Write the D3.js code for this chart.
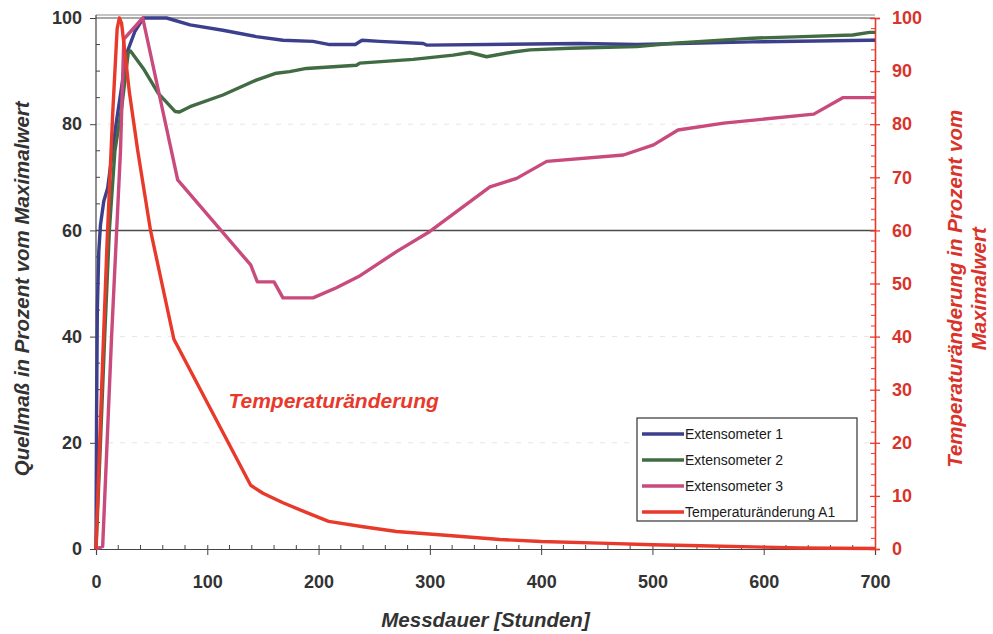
<!DOCTYPE html>
<html lang="de">
  <head>
    <meta charset="UTF-8" />
    <title>Quellmaß und Temperaturänderung</title>
    <style>
      body { margin: 0; background: #fff; }
      svg { display: block; }
      text { font-family: "Liberation Sans", Arial, sans-serif; }
      .tick-label { font-size: 18px; font-weight: bold; fill: #333; }
      .tick-label-r { font-size: 18px; font-weight: bold; fill: #d9342b; }
      .axis-title { font-size: 20.5px; font-weight: bold; font-style: italic; fill: #333; }
      .axis-title-r { font-size: 20.5px; font-weight: bold; font-style: italic; fill: #d9342b; }
      .legend-text { font-size: 14px; fill: #1a1a1a; }
      .data-line { fill: none; stroke-width: 3.4; stroke-linejoin: round; }
    </style>
  </head>
  <body>
    <script src="https://cdn.jsdelivr.net/npm/d3@7/dist/d3.min.js"></script>
    <script>

    // hours and percent of max
    var ext1 = [[0,0],[0.5,25],[1.2,45],[2.5,56],[4,61],[7,65.5],[10.5,68],[18,80],[27.5,93.3],[35,97.5],
                [42.5,100],[63.5,100],[84.5,98.7],[114,97.7],[144,96.5],[168,95.8],[195,95.6],[210,95],
                [233,95],[239,95.8],[255,95.6],[294,95.2],[297,94.9],[435,95.2],[486,95.0],[590,95.5],
                [695,95.8],[700,95.8]];

    var ext2 = [[0,0],[4,20],[8,41],[12,60],[17,75],[23,83],[29,93.5],[31,93.8],[42.5,90.5],[56,85.8],
                [71,82.4],[75,82.3],[84.5,83.3],[114,85.5],[144,88.3],[162,89.6],[174,89.9],[189,90.5],
                [234,91.1],[237,91.5],[285,92.2],[321,93],[336,93.5],[351,92.7],[375,93.6],[390,94],
                [426,94.3],[486,94.6],[516,95.2],[590,96.2],[635,96.5],[680,96.8],[695,97.3],[700,97.3]];

    var ext3 = [[0,0],[6,0.5],[14,40],[22,75],[25,96],[42,100],[73.4,69.5],[139,53.5],[145,50.3],
                [160,50.3],[168,47.3],[195,47.3],[216,49.2],[236,51.3],[270,56],[300,59.8],[354,68.2],
                [378,69.8],[405,73],[474,74.2],[501,76.1],[523,78.9],[564,80.2],[645,81.9],[671,85],
                [700,85]];

    var tempA1 = [[0,0],[5,30],[10,58],[15,82],[19,98],[21,100],[23,99],[30,86],[37.5,75],[49,60],
                  [70,39.5],[139,12],[150,10.5],[168,8.7],[190,6.8],[209,5.2],[240,4.2],[270,3.3],
                  [320,2.5],[363,1.8],[400,1.4],[453,1.1],[500,0.8],[543,0.6],[600,0.35],[633,0.2],
                  [700,0.1]];

    var seriesNames = ["Extensometer 1", "Extensometer 2", "Extensometer 3", "Temperaturänderung A1"];
    var seriesColors = ["#3c3f8c", "#416b43", "#c94a7c", "#e8392b"];

    var xTicks = [0, 100, 200, 300, 400, 500, 600, 700];
    var yTicksLeft = [0, 20, 40, 60, 80, 100];
    var yTicksRight = [0, 10, 20, 30, 40, 50, 60, 70, 80, 90, 100];

    // canvas
    var w = 993,
        h = 634;

    var margin = { top: 18, right: 118, bottom: 85, left: 96 };

    var svg = d3.select("body")
                .append("svg")
                .attr("width", w)
                .attr("height", h);

    // scales
    var xScale = d3.scaleLinear()
      .domain([0, 700])
      .range([margin.left, w - margin.right]);

    var yLeft = d3.scaleLinear()
      .domain([0, 100])
      .range([h - margin.bottom, margin.top]);

    var yRight = d3.scaleLinear()
      .domain([0, 100])
      .range([h - margin.bottom, margin.top]);

    // faint gridlines (washed out in the scan)
    svg.append("g")
       .selectAll("line")
       .data([20, 40, 80])
       .enter().append("line")
       .attr("x1", xScale(0)).attr("x2", xScale(700))
       .attr("y1", function(d) { return yLeft(d); })
       .attr("y2", function(d) { return yLeft(d); })
       .attr("stroke", "#e6e6e6")
       .attr("stroke-dasharray", "5,7");

    // dark gridlines at 60 and 100
    svg.append("g")
       .selectAll("line")
       .data([60, 100])
       .enter().append("line")
       .attr("x1", xScale(0)).attr("x2", xScale(700))
       .attr("y1", function(d) { return yLeft(d); })
       .attr("y2", function(d) { return yLeft(d); })
       .attr("stroke", function(d) { return d == 60 ? "#4a4a4a" : "#8a8a8a"; })
       .attr("stroke-width", 1.5);

    // top frame line just above the 100 gridline
    svg.append("line")
       .attr("x1", xScale(0)).attr("x2", xScale(700))
       .attr("y1", yLeft(100) - 3).attr("y2", yLeft(100) - 3)
       .attr("stroke", "#8a8a8a")
       .attr("stroke-width", 1.2);

    // x axis
    var xAxis = d3.axisBottom(xScale)
      .tickValues(xTicks)
      .tickSize(6)
      .tickPadding(20)
      .tickFormat(d3.format("d"));

    var gx = svg.append("g")
      .attr("transform", "translate(0," + (h - margin.bottom) + ")")
      .call(xAxis);
    gx.select(".domain").attr("stroke", "#444").attr("stroke-width", 1.2);
    gx.selectAll(".tick line").attr("stroke", "#444").attr("y1", -4);
    gx.selectAll(".tick text").attr("class", "tick-label");

    // x minor ticks every 20
    gx.append("g")
      .selectAll("line")
      .data(d3.range(20, 700, 20).filter(function(d) { return d % 100 != 0; }))
      .enter().append("line")
      .attr("x1", function(d) { return xScale(d); })
      .attr("x2", function(d) { return xScale(d); })
      .attr("y1", 0).attr("y2", -4)
      .attr("stroke", "#444");

    // left axis
    var yAxisL = d3.axisLeft(yLeft)
      .tickValues(yTicksLeft)
      .tickSize(6)
      .tickPadding(8);

    var gl = svg.append("g")
      .attr("transform", "translate(" + margin.left + ",0)")
      .call(yAxisL);
    gl.select(".domain").attr("stroke", "#444").attr("stroke-width", 1.2)
      .attr("d", "M0," + (yLeft(100) - 3) + "V" + yLeft(0));
    gl.selectAll(".tick line").attr("stroke", "#444");
    gl.selectAll(".tick text").attr("class", "tick-label");

    // left minor ticks every 5
    gl.append("g")
      .selectAll("line")
      .data(d3.range(5, 100, 5).filter(function(d) { return d % 20 != 0; }))
      .enter().append("line")
      .attr("x1", 0).attr("x2", 4)
      .attr("y1", function(d) { return yLeft(d); })
      .attr("y2", function(d) { return yLeft(d); })
      .attr("stroke", "#444");

    // right axis (temperature, red)
    var yAxisR = d3.axisRight(yRight)
      .tickValues(yTicksRight)
      .tickSize(5)
      .tickPadding(12);

    var gr = svg.append("g")
      .attr("transform", "translate(" + (w - margin.right) + ",0)")
      .call(yAxisR);
    gr.select(".domain").attr("stroke", "#e8392b").attr("stroke-width", 1.6);
    gr.selectAll(".tick line").attr("stroke", "#e8392b").attr("x1", -5).attr("stroke-width", 1.3);
    gr.selectAll(".tick text").attr("class", "tick-label-r");

    // right minor ticks every 2
    gr.append("g")
      .selectAll("line")
      .data(d3.range(2, 100, 2).filter(function(d) { return d % 10 != 0; }))
      .enter().append("line")
      .attr("x1", -4).attr("x2", 0)
      .attr("y1", function(d) { return yRight(d); })
      .attr("y2", function(d) { return yRight(d); })
      .attr("stroke", "#e8392b");

    // lines
    var lineL = d3.line()
      .x(function(d) { return xScale(d[0]); })
      .y(function(d) { return yLeft(d[1]); });

    var lineR = d3.line()
      .x(function(d) { return xScale(d[0]); })
      .y(function(d) { return yRight(d[1]); });

    var plot = svg.append("g");

    plot.append("path").datum(ext1).attr("class", "data-line")
        .attr("stroke", seriesColors[0]).attr("d", lineL);
    plot.append("path").datum(ext2).attr("class", "data-line")
        .attr("stroke", seriesColors[1]).attr("d", lineL);
    plot.append("path").datum(ext3).attr("class", "data-line")
        .attr("stroke", seriesColors[2]).attr("d", lineL);
    plot.append("path").datum(tempA1).attr("class", "data-line")
        .attr("stroke", seriesColors[3]).attr("stroke-width", 4).attr("d", lineR);

    // annotation for the temperature curve
    svg.append("text")
       .attr("x", xScale(119))
       .attr("y", yRight(26.5))
       .attr("fill", "#e8392b")
       .attr("font-size", "21px")
       .attr("font-style", "italic")
       .attr("font-weight", "bold")
       .text("Temperaturänderung");

    // legend
    var legend = svg.append("g")
      .attr("transform", "translate(637,418)");

    legend.append("rect")
      .attr("width", 220)
      .attr("height", 103)
      .attr("fill", "#fff")
      .attr("stroke", "#333")
      .attr("stroke-width", 1.2);

    var item = legend.selectAll("g.item")
      .data(seriesNames)
      .enter().append("g")
      .attr("class", "item")
      .attr("transform", function(d, i) { return "translate(0," + (16 + i * 26) + ")"; });

    item.append("line")
      .attr("x1", 5).attr("x2", 47)
      .attr("stroke", function(d, i) { return seriesColors[i]; })
      .attr("stroke-width", 3.5);

    item.append("text")
      .attr("class", "legend-text")
      .attr("x", 48)
      .attr("y", 5)
      .text(function(d) { return d; });

    // axis titles
    svg.append("text")
       .attr("class", "axis-title")
       .attr("text-anchor", "middle")
       .attr("transform", "translate(29," + yLeft(49) + ") rotate(-90)")
       .text("Quellmaß in Prozent vom Maximalwert");

    svg.append("text")
       .attr("class", "axis-title-r")
       .attr("text-anchor", "middle")
       .attr("transform", "translate(962," + yRight(49) + ") rotate(-90)")
       .text("Temperaturänderung in Prozent vom");

    svg.append("text")
       .attr("class", "axis-title-r")
       .attr("text-anchor", "middle")
       .attr("transform", "translate(986," + yRight(49) + ") rotate(-90)")
       .text("Maximalwert");

    svg.append("text")
       .attr("class", "axis-title")
       .attr("text-anchor", "middle")
       .attr("x", xScale(350))
       .attr("y", 627)
       .text("Messdauer [Stunden]");

    </script>
  </body>
</html>
